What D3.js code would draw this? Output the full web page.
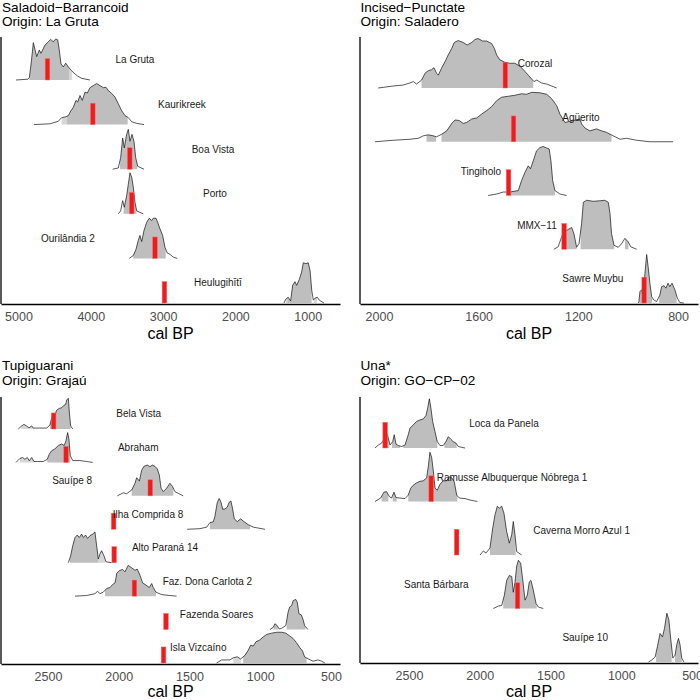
<!DOCTYPE html>
<html><head><meta charset="utf-8">
<script src="https://cdn.jsdelivr.net/npm/d3@7"></script>
<style>body{margin:0;background:#fff}svg{display:block;font-family:"Liberation Sans",Arial,Helvetica,sans-serif}</style>
</head><body><svg id="c" width="700" height="700"></svg>
<script>
// ---------------- DATA ----------------
// Panel 1: Saladoid–Barrancoid
const sites1 = ["La Gruta","Kaurikreek","Boa Vista","Porto","Ourilândia 2","Heulugihītī"];
const arrival1 = [4599, 3972, 3461, 3434, 3112, 2981];
const labelT1 = [3389, 2739, 2310, 2282, 4316, 2241];
const ticks1 = [5000, 4000, 3000, 2000, 1000];
const xDomain1 = [5242, 553];
const dLaGruta = [[5035,0],[4869,0.02],[4850,0.06],[4822,0.45],[4795,0.91],[4748,0.57],[4712,0.73],[4689,0.65],[4634,0.85],[4588,0.93],[4555,0.99],[4519,0.93],[4486,1.0],[4458,0.98],[4436,0.73],[4412,0.39],[4380,0.32],[4347,0.41],[4311,0.32],[4274,0.24],[4232,0.17],[4187,0.1],[4126,0.04],[4011,0]];
const dKaurikreek = [[4786,0],[4564,0.02],[4450,0.08],[4403,0.17],[4347,0.19],[4311,0.22],[4274,0.34],[4242,0.42],[4205,0.59],[4181,0.55],[4149,0.71],[4118,0.59],[4080,0.79],[4048,0.77],[4011,0.9],[3966,0.95],[3919,1.0],[3873,0.95],[3827,0.9],[3790,0.91],[3758,0.83],[3711,0.76],[3665,0.67],[3620,0.51],[3573,0.34],[3527,0.22],[3481,0.17],[3434,0.07],[3365,0.03],[3264,0]];
const dBoaVista = [[3697,0],[3620,0.03],[3587,0.28],[3559,0.76],[3537,0.52],[3504,0.85],[3481,0.97],[3458,0.68],[3430,0.85],[3403,0.68],[3379,0.28],[3351,0.07],[3264,0]];
const dPorto = [[3620,0],[3587,0.07],[3559,0.32],[3537,0.16],[3504,0.44],[3481,0.72],[3458,1.0],[3434,0.89],[3412,0.65],[3389,0.28],[3365,0.07],[3274,0]];
const dOurilandia = [[3468,0],[3412,0.07],[3375,0.22],[3343,0.44],[3320,0.56],[3296,0.41],[3264,0.68],[3227,0.88],[3191,0.98],[3158,0.92],[3136,0.98],[3098,0.98],[3075,0.88],[3043,0.72],[3006,0.56],[2974,0.27],[2942,0.13],[2905,0.1],[2859,0.03],[2804,0]];
const dHeulugihiti = [[1328,0],[1300,0.1],[1269,0.14],[1236,0.05],[1208,0.43],[1176,0.52],[1153,0.43],[1117,0.57],[1084,0.75],[1061,0.98],[1024,0.96],[992,0.98],[967,0.79],[944,0.31],[922,0.07],[898,0.12],[868,0.14],[840,0.07],[775,0]];
const hpd1 = [[[4850,4302]],[[4333,3490]],[[3596,3357]],[[3545,3368]],[[3412,2964]],[[1282,945]]];
const light1 = [[[4302,4262]],[[4403,4333]],[],[],[],[[1300,1282],[915,870]]];

// Panel 2: Incised–Punctate
const sites2 = ["Corozal","Agüerito","Tingiholo","MMX−11","Sawre Muybu"];
const arrival2 = [1493, 1460, 1480, 1257, 936];
const labelT2 = [1374, 1190, 1591, 1366, 1142];
const ticks2 = [2000, 1600, 1200, 800];
const xDomain2 = [2076, 720];
const dCorozal = [[2003,0],[1943,0.04],[1903,0.06],[1876,0.1],[1862,0.13],[1849,0.08],[1829,0.16],[1815,0.3],[1802,0.35],[1789,0.37],[1779,0.41],[1769,0.3],[1762,0.26],[1749,0.4],[1735,0.53],[1722,0.67],[1708,0.8],[1698,0.92],[1682,0.96],[1662,0.92],[1646,0.87],[1628,0.92],[1615,0.98],[1602,1.0],[1584,0.95],[1568,0.95],[1548,0.9],[1537,0.8],[1528,0.67],[1515,0.57],[1495,0.52],[1475,0.5],[1455,0.5],[1434,0.44],[1417,0.35],[1401,0.26],[1387,0.18],[1378,0.13],[1367,0.16],[1347,0.1],[1327,0.08],[1307,0.04],[1287,0]];
const dAguerito = [[2016,0],[1943,0.03],[1876,0.05],[1842,0.07],[1822,0.12],[1802,0.14],[1782,0.12],[1769,0.1],[1749,0.15],[1728,0.22],[1708,0.37],[1695,0.44],[1678,0.43],[1662,0.37],[1648,0.39],[1628,0.46],[1608,0.48],[1588,0.56],[1568,0.63],[1548,0.71],[1528,0.83],[1508,0.9],[1481,0.92],[1455,0.94],[1428,0.97],[1408,0.96],[1387,1.0],[1354,0.99],[1327,0.96],[1307,0.87],[1287,0.73],[1274,0.56],[1254,0.39],[1220,0.43],[1194,0.46],[1187,0.36],[1174,0.28],[1154,0.22],[1127,0.26],[1107,0.22],[1087,0.19],[1060,0.12],[1033,0.05],[1007,0.07],[966,0.03],[913,0],[820,0]];
const dTingiholo = [[1562,0],[1528,0.03],[1501,0.07],[1475,0.07],[1441,0.1],[1428,0.3],[1414,0.47],[1401,0.6],[1392,0.54],[1381,0.7],[1368,0.9],[1354,0.97],[1341,0.99],[1327,0.96],[1317,0.94],[1310,0.7],[1303,0.3],[1294,0.1],[1274,0.03],[1247,0]];
const dMMX11 = [[1298,0],[1281,0.05],[1267,0.25],[1258,0.35],[1250,0.37],[1241,0.4],[1227,0.44],[1218,0.32],[1207,0.04],[1197,0.12],[1187,0.52],[1180,0.95],[1167,0.99],[1140,0.97],[1114,0.98],[1094,0.99],[1080,0.95],[1073,0.72],[1067,0.32],[1057,0.08],[1040,0.04],[1027,0.11],[1013,0.22],[1000,0.15],[990,0.05],[966,0]];
const dSawre = [[960,0],[957,0.03],[953,0.23],[946,0.27],[940,0.13],[933,0.59],[926,0.98],[920,0.73],[913,0.4],[906,0.13],[897,0.06],[886,0.03],[873,0.16],[866,0.33],[856,0.35],[849,0.3],[840,0.4],[833,0.33],[824,0.4],[813,0.27],[803,0.1],[793,0.01],[777,0]];
const hpd2 = [[[1829,1381]],[[1809,1771],[1749,1067]],[[1475,1294]],[[1267,1207],[1191,1056],[1013,999]],[[956,904],[876,806]]];
const light2 = [[],[],[],[],[]];

// Panel 3: Tupiguarani
const sites3 = ["Bela Vista","Abraham","Sauípe 8","Ilha Comprida 8","Alto Paraná 14","Faz. Dona Carlota 2","Fazenda Soares","Isla Vizcaíno"];
const arrival3 = [2460, 2372, 1777, 2036, 2032, 1889, 1666, 1683];
const labelT3 = [1859, 1862, 2329, 1793, 1673, 1373, 1309, 1438];
const ticks3 = [2500, 2000, 1500, 1000, 500];
const xDomain3 = [2832, 436];
const dBelaVista = [[2710,0],[2686,0.1],[2670,0.15],[2651,0.1],[2634,0.04],[2615,0.1],[2604,0.03],[2557,0.03],[2509,0.03],[2486,0.13],[2474,0.36],[2462,0.5],[2451,0.45],[2439,0.61],[2420,0.67],[2403,0.69],[2387,0.77],[2375,0.8],[2368,0.94],[2356,1.0],[2349,0.55],[2340,0.1],[2325,0]];
const dAbraham = [[2726,0],[2698,0.13],[2679,0.16],[2663,0.1],[2646,0.16],[2632,0.05],[2615,0.16],[2599,0.03],[2533,0.03],[2505,0.1],[2491,0.27],[2474,0.38],[2451,0.44],[2427,0.55],[2403,0.6],[2385,0.55],[2373,0.7],[2361,0.97],[2352,0.76],[2342,0.22],[2325,0.06],[2274,0.06],[2226,0.03],[2184,0]];
const dSauipe8 = [[2010,0],[1968,0.1],[1944,0.07],[1908,0.19],[1885,0.41],[1873,0.59],[1854,0.48],[1838,0.83],[1822,0.96],[1798,1.0],[1779,0.95],[1763,1.0],[1744,0.96],[1728,0.88],[1713,0.68],[1701,0.25],[1685,0.14],[1661,0.25],[1638,0.41],[1619,0.3],[1603,0.14],[1579,0.08],[1544,0]];
const dIlhaComprida = [[1516,0],[1426,0.02],[1378,0.07],[1355,0.22],[1332,0.24],[1320,0.42],[1304,0.86],[1290,1.0],[1277,0.88],[1265,0.65],[1249,0.66],[1233,0.72],[1219,0.88],[1207,0.92],[1195,0.66],[1183,0.34],[1162,0.25],[1138,0.34],[1115,0.25],[1084,0.15],[1049,0.07],[1014,0.04],[966,0]];
const dAltoParana = [[2356,0],[2340,0.22],[2325,0.55],[2309,0.82],[2293,0.9],[2279,0.82],[2262,0.93],[2250,0.82],[2234,0.9],[2220,0.79],[2203,0.88],[2184,0.93],[2168,1.0],[2156,0.55],[2144,0.12],[2133,0.28],[2121,0.39],[2104,0.22],[2090,0.03],[2050,0]];
const dCarlota = [[2309,0],[2227,0.02],[2168,0.08],[2149,0.16],[2133,0.08],[2109,0.13],[2085,0.25],[2062,0.28],[2043,0.38],[2026,0.43],[2014,0.74],[1996,0.83],[1972,0.87],[1956,0.79],[1933,1.0],[1908,0.92],[1885,0.84],[1869,0.88],[1850,0.68],[1831,0.43],[1807,0.36],[1784,0.28],[1767,0.41],[1756,0.28],[1737,0.13],[1697,0.05],[1638,0.02],[1591,0]];
const dFazSoares = [[931,0],[908,0.07],[896,0.19],[880,0.13],[866,0.02],[849,0.04],[819,0.13],[803,0.56],[792,0.73],[778,0.78],[767,0.94],[749,0.98],[738,0.89],[726,0.51],[710,0.48],[698,0.34],[686,0.13],[663,0]];
const dIsla = [[1308,0],[1273,0.1],[1214,0.1],[1190,0.17],[1162,0.2],[1138,0.13],[1108,0.25],[1084,0.42],[1067,0.58],[1049,0.55],[1030,0.69],[1006,0.74],[978,0.85],[954,0.93],[919,0.97],[884,1.0],[849,1.0],[819,0.97],[792,0.88],[768,0.8],[745,0.67],[720,0.5],[701,0.39],[686,0.2],[655,0.12],[626,0.06],[591,0.1],[567,0.06],[543,0]];
const hpd3 = [[[2486,2340]],[[2505,2342]],[[1908,1614]],[[1355,1072]],[[2345,2144]],[[2097,1737]],[[905,875],[813,680]],[[1120,672]]];
const light3 = [[[2690,2600]],[[2700,2600]],[],[],[[2144,2095]],[],[],[[1190,1138]]];

// Panel 4: Una*
const sites4 = ["Loca da Panela","Ramusse Albuquerque Nóbrega 1","Caverna Morro Azul 1","Santa Bárbara","Sauípe 10"];
const arrival4 = [2668, 2343, 2163, 1733, null];
const labelT4 = [1829, 1772, 1280, 2307, 1255];
const ticks4 = [2500, 2000, 1500, 1000, 500];
const xDomain4 = [2846, 458];
const dLoca = [[2740,0],[2717,0.06],[2693,0.1],[2670,0.21],[2653,0.28],[2634,0.06],[2615,0.13],[2604,0.27],[2592,0.08],[2575,0.05],[2552,0.03],[2528,0.06],[2505,0.27],[2493,0.4],[2470,0.47],[2446,0.54],[2422,0.57],[2399,0.59],[2380,0.66],[2368,0.81],[2356,1.0],[2345,0.81],[2333,0.54],[2316,0.33],[2300,0.13],[2281,0.05],[2258,0.05],[2239,0.13],[2222,0.23],[2205,0.18],[2187,0.13],[2168,0.1],[2152,0.03],[2104,0]];
const dRamusse = [[2740,0],[2700,0.07],[2677,0.19],[2658,0.2],[2639,0.1],[2623,0.07],[2606,0.19],[2592,0.08],[2564,0.07],[2528,0.06],[2505,0.13],[2488,0.27],[2470,0.33],[2446,0.38],[2422,0.41],[2399,0.42],[2375,0.48],[2363,0.72],[2352,1.0],[2340,0.9],[2328,0.62],[2316,0.27],[2300,0.23],[2281,0.35],[2258,0.42],[2234,0.42],[2215,0.5],[2198,0.48],[2180,0.4],[2163,0.13],[2144,0.07],[2104,0.06],[2069,0.03],[2017,0]];
const dCaverna = [[1998,0],[1975,0.08],[1956,0.04],[1928,0.14],[1908,0.55],[1892,0.82],[1876,0.99],[1862,0.95],[1845,0.99],[1829,0.85],[1810,0.48],[1791,0.24],[1774,0.41],[1763,0.68],[1751,0.41],[1739,0.07],[1704,0]];
const dSantaBarbara = [[1904,0],[1869,0.05],[1845,0.06],[1826,0.27],[1810,0.57],[1791,0.67],[1774,0.65],[1763,0.33],[1751,0.53],[1739,0.86],[1727,0.98],[1711,0.92],[1697,0.6],[1680,0.17],[1664,0.27],[1650,0.54],[1638,0.57],[1622,0.38],[1602,0.1],[1586,0.03],[1551,0]];
const dSauipe10 = [[807,0],[785,0.04],[761,0.1],[745,0.31],[726,0.58],[709,0.51],[695,0.68],[678,0.99],[664,0.86],[650,0.45],[636,0.08],[620,0.14],[608,0.35],[596,0.48],[585,0.35],[573,0.08],[557,0]];
const hpd4 = [[[2686,2639],[2620,2563],[2540,2300],[2250,2163]],[[2693,2646],[2615,2587],[2505,2158]],[[1928,1746]],[[1834,1598]],[[754,644],[620,573]]];
const light4 = [[],[],[],[],[]];

// ---------------- LAYOUT ----------------
const panels = [
  {title:"Saladoid−Barrancoid", origin:"Origin: La Gruta", sites:sites1, dens:[dLaGruta,dKaurikreek,dBoaVista,dPorto,dOurilandia,dHeulugihiti],
   hpd:hpd1, light:light1, arrival:arrival1, labelT:labelT1, ticks:ticks1, domain:xDomain1,
   xr:[1,340], yr:[80,303], top:37, axisY:304, tx:2, ty:11.5, capY:339},
  {title:"Incised−Punctate", origin:"Origin: Saladero", sites:sites2, dens:[dCorozal,dAguerito,dTingiholo,dMMX11,dSawre],
   hpd:hpd2, light:light2, arrival:arrival2, labelT:labelT2, ticks:ticks2, domain:xDomain2,
   xr:[360,698], yr:[88,303], top:37, axisY:304, tx:360.5, ty:11.5, capY:339},
  {title:"Tupiguarani", origin:"Origin: Grajaú", sites:sites3, dens:[dBelaVista,dAbraham,dSauipe8,dIlhaComprida,dAltoParana,dCarlota,dFazSoares,dIsla],
   hpd:hpd3, light:light3, arrival:arrival3, labelT:labelT3, ticks:ticks3, domain:xDomain3,
   xr:[1,340], yr:[429,663], top:397, axisY:664, tx:2, ty:370, capY:697},
  {title:"Una*", origin:"Origin: GO−CP−02", sites:sites4, dens:[dLoca,dRamusse,dCaverna,dSantaBarbara,dSauipe10],
   hpd:hpd4, light:light4, arrival:arrival4, labelT:labelT4, ticks:ticks4, domain:xDomain4,
   xr:[360,698], yr:[448,662], top:397, axisY:663, tx:360.5, ty:370, capY:697}
];

const svg = d3.select("#c");

function interp(pts, t) {
  for (let i = 0; i < pts.length - 1; i++) {
    const a = pts[i], b = pts[i+1];
    if (a[0] >= t && b[0] <= t) {
      const f = (a[0] - t) / ((a[0] - b[0]) || 1);
      return a[1] + f * (b[1] - a[1]);
    }
  }
  return 0;
}
function segment(pts, lo, hi) {
  const out = [[lo, interp(pts, lo)]];
  pts.forEach(p => { if (p[0] < lo && p[0] > hi) out.push(p); });
  out.push([hi, interp(pts, hi)]);
  return out;
}

panels.forEach(P => {
  const g = svg.append("g");
  const x = d3.scaleLinear().domain(P.domain).range(P.xr);
  const y = d3.scalePoint().domain(P.sites).range(P.yr);
  const step = (P.yr[1] - P.yr[0]) / (P.sites.length - 1);
  const hmax = 0.92 * step;

  // titles
  g.append("text").attr("x", P.tx).attr("y", P.ty).attr("font-size", 13.6).attr("fill", "#000").text(P.title);
  g.append("text").attr("x", P.tx).attr("y", P.ty + 14.5).attr("font-size", 13.6).attr("fill", "#000").text(P.origin);

  // densities
  P.sites.forEach((s, i) => {
    const base = y(s);
    const pts = P.dens[i];
    const area = d3.area().x(d => x(d[0])).y0(base).y1(d => base - d[1] * hmax);
    const line = d3.line().x(d => x(d[0])).y(d => base - d[1] * hmax);
    P.light[i].forEach(iv => {
      g.append("path").attr("d", area(segment(pts, iv[0], iv[1]))).attr("fill", "#d6d6d6");
    });
    P.hpd[i].forEach(iv => {
      g.append("path").attr("d", area(segment(pts, iv[0], iv[1]))).attr("fill", "#bebebe");
    });
    g.append("path").attr("d", line(pts)).attr("fill", "none").attr("stroke", "#111").attr("stroke-width", 0.7);
  });

  // arrival bars
  P.sites.forEach((s, i) => {
    const t = P.arrival[i];
    if (t == null) return;
    const base = y(s);
    g.append("rect").attr("x", x(t) - 2.3).attr("width", 4.6)
      .attr("y", base - 0.48 * step).attr("height", 0.48 * step)
      .attr("fill", "#ee1c1c").attr("stroke", "#f56b6b").attr("stroke-width", 0.5);
  });

  // labels
  P.sites.forEach((s, i) => {
    g.append("text").attr("x", x(P.labelT[i])).attr("y", y(s) - 0.45 * step)
      .attr("text-anchor", "middle").attr("dominant-baseline", "central")
      .attr("font-size", 10).attr("fill", "#1a1a1a").text(s);
  });

  // axes
  g.append("line").attr("x1", P.xr[0]).attr("x2", P.xr[0]).attr("y1", P.top).attr("y2", P.axisY)
    .attr("stroke", "#000").attr("stroke-width", 1.3);
  const ax = g.append("g").attr("transform", `translate(0,${P.axisY})`)
    .call(d3.axisBottom(x).tickValues(P.ticks).tickSize(0).tickSizeOuter(0).tickPadding(8).tickFormat(d3.format("d")));
  ax.select(".domain").attr("stroke", "#000").attr("stroke-width", 1.3);
  ax.selectAll("text").attr("font-size", 12.5).attr("fill", "#4d4d4d").attr("font-family", "Liberation Sans, Arial, sans-serif");
  g.append("text").attr("x", (P.xr[0] + P.xr[1]) / 2).attr("y", P.capY)
    .attr("text-anchor", "middle").attr("font-size", 16).attr("fill", "#000").text("cal BP");
});
</script></body></html>
